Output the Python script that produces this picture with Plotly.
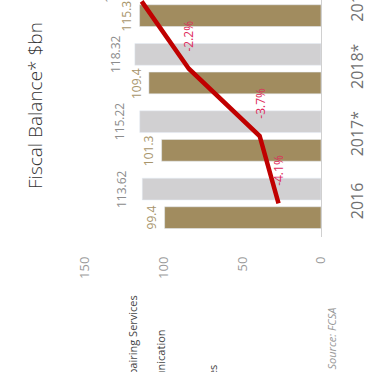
import plotly.graph_objects as go

# ---- data ----
years = ["2016", "2017*", "2018*", "2019*"]
revenue = [99.4, 101.3, 109.4, 115.3]          # brown bars
expenditure = [113.62, 115.22, 118.32, 121.5]  # gray bars
balance_pct = [-4.1, -3.7, -2.2, -1.2]         # red line (% of GDP)
value_ticks = [0, 50, 100, 150]

BROWN = "#a18c5f"
GRAY = "#d1d0d2"
RED = "#c00000"
PINK = "#de2a5b"

fig = go.Figure()
fig.add_trace(go.Bar(y=years, x=revenue, orientation="h", marker_color=BROWN,
                     name="Revenue", xaxis="x", yaxis="y"))
fig.add_trace(go.Bar(y=years, x=expenditure, orientation="h", marker_color=GRAY,
                     name="Expenditure", xaxis="x", yaxis="y"))
fig.add_trace(go.Scatter(y=years, x=balance_pct, mode="lines",
                         line=dict(color=RED, width=4.5), xaxis="x2", yaxis="y",
                         name="Balance"))

ann = []
for i, v in enumerate(revenue):
    ann.append(dict(x=v, y=i, xref="x", yref="y", text=f"{v:g}", showarrow=False,
                    textangle=-90, xanchor="center", yanchor="middle",
                    xshift=-13, yshift=-14.5,
                    font=dict(family="Open Sans", size=12, color="#a8956b")))
for i, v in enumerate(expenditure):
    ann.append(dict(x=v, y=i, xref="x", yref="y", text=f"{v:g}", showarrow=False,
                    textangle=-90, xanchor="center", yanchor="middle",
                    xshift=-20, yshift=14.5,
                    font=dict(family="Open Sans", size=12, color="#8c8c8c")))
for i, v in enumerate(balance_pct):
    ann.append(dict(x=v, y=i, xref="x2", yref="y", text=f"{v:.1f}%", showarrow=False,
                    textangle=-90, xanchor="center", yanchor="middle",
                    yshift=33,
                    font=dict(family="Open Sans", size=12, color=PINK)))

# title and other texts
ann.append(dict(x=-0.212, y=0.557, xref="paper", yref="paper", text="Fiscal Balance* $bn",
                showarrow=False, textangle=-90, xanchor="center", yanchor="middle",
                font=dict(family="Open Sans", size=19, color="#333333", weight=300)))
ann.append(dict(x=1.045, y=-0.43, xref="paper", yref="paper", text="<i>Source: FCSA</i>",
                showarrow=False, textangle=-90, xanchor="center", yanchor="middle",
                font=dict(family="Open Sans", size=11, color="#999999")))
ann.append(dict(x=0.203, y=-0.236, xref="paper", yref="paper", text="Repairing Services",
                showarrow=False, textangle=-90, xanchor="center", yanchor="top",
                font=dict(family="Open Sans", size=11, color="#444444")))
ann.append(dict(x=0.318, y=-0.380, xref="paper", yref="paper", text="Communication",
                showarrow=False, textangle=-90, xanchor="center", yanchor="top",
                font=dict(family="Open Sans", size=11, color="#444444")))
ann.append(dict(x=0.54, y=-0.53, xref="paper", yref="paper", text="Utilities",
                showarrow=False, textangle=-90, xanchor="center", yanchor="top",
                font=dict(family="Open Sans", size=11, color="#444444")))

fig.update_layout(
    width=367, height=372,
    margin=dict(l=85, r=46, t=0, b=135, autoexpand=False),
    paper_bgcolor="white", plot_bgcolor="white",
    showlegend=False,
    barmode="group", bargap=0.15, bargroupgap=0.24,
    xaxis=dict(range=[150, 0], tickvals=value_ticks, tickangle=-90,
               showgrid=False, zeroline=False, showline=False, automargin=False,
               ticks="", ticklabelstandoff=16,
               tickfont=dict(family="Open Sans", size=13, color="#9a9a9a")),
    xaxis2=dict(range=[0, -5], overlaying="x", visible=False),
    yaxis=dict(type="category", categoryorder="array", categoryarray=years,
               range=[-0.5, 3.02], side="right", tickangle=-90, automargin=False,
               showgrid=False, zeroline=False, showline=True, linecolor="#d0d0d0",
               linewidth=1, ticks="", ticklabelstandoff=22,
               tickfont=dict(family="Open Sans", size=16, color="#707070")),
    annotations=ann,
)

fig.write_html("out.html", config={"displayModeBar": False},
               post_script="document.body.style.margin='0';")
